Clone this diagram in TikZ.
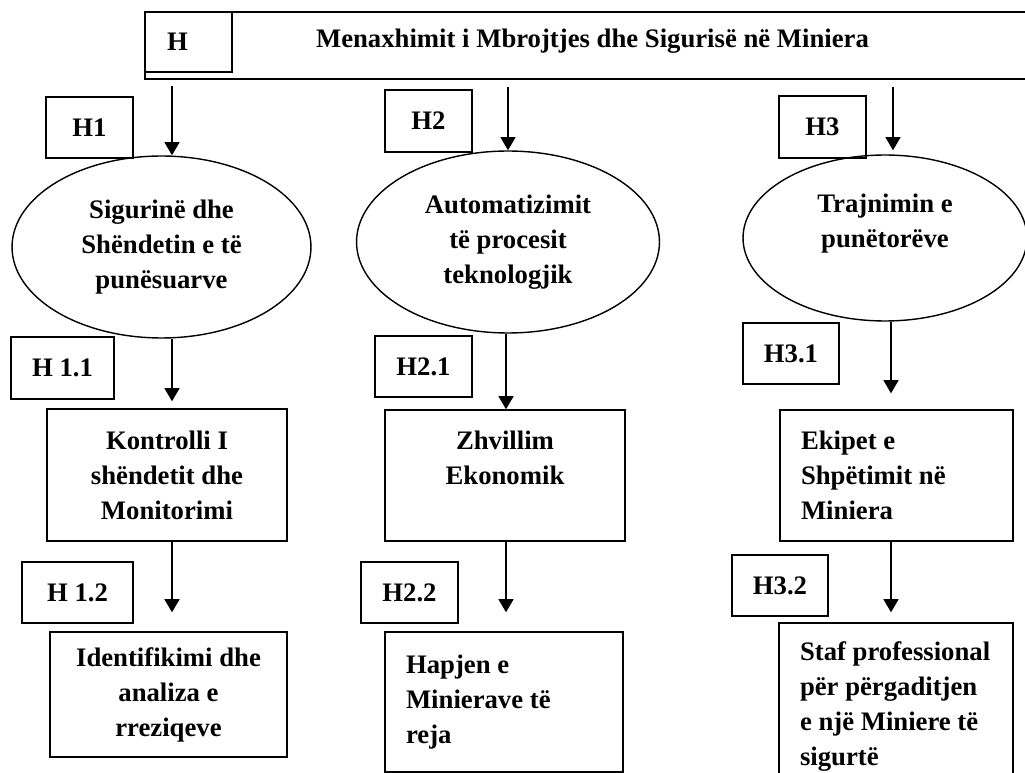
\documentclass[tikz,border=0pt]{standalone}
\usepackage{fontspec}
\setmainfont{Liberation Serif}
\usepackage{xcolor}
\usepackage{tikz}
\usetikzlibrary{shapes.geometric,arrows.meta}

\newcommand\diagfont{\bfseries\fontsize{15.2}{19.9}\selectfont}
\tikzset{
  tag/.style={draw, line width=0.8pt, inner sep=0pt, minimum height=1.22cm, font=\diagfont},
  goal/.style={draw, ellipse, line width=0.8pt, inner sep=0pt, align=center, font=\diagfont},
  task/.style={draw, line width=0.8pt, inner sep=0pt, align=center, font=\diagfont},
  flow/.style={-{Triangle[width=8.5pt,length=7.5pt]}, line width=1pt},
}

\begin{document}
\begin{tikzpicture}[x=0.02cm, y=-0.02cm]
\useasboundingbox (0,0) rectangle (1025,773);

% header
\node[draw, line width=1.1pt, minimum width=17.9cm, minimum height=1.34cm, inner sep=0pt,
  text height=0.38cm, text depth=0.30cm, font=\diagfont] (top) at (592.5,45.5)
  {Menaxhimit i Mbrojtjes dhe Sigurisë në Miniera};
\node[tag, line width=1.1pt, minimum width=1.74cm, minimum height=1.2cm, text width=0.86cm, align=flush left]
  (hcell) at (188.5,42) {H};

% columns for the arrows
\coordinate (a1) at (172,0);
\coordinate (a2) at (508,0);
\coordinate (b2) at (506,0);
\coordinate (a3) at (893,0);
\coordinate (b3) at (891,0);

% goals
\node[goal, minimum width=5.98cm, minimum height=3.64cm] (e1) at (161.5,247)
  {Sigurinë dhe\\Shëndetin e të\\punësuarve};
\node[goal, minimum width=6.06cm, minimum height=3.64cm] (e2) at (508,242)
  {Automatizimit\\të procesit\\teknologjik};
\node[goal, minimum width=5.68cm, minimum height=3.32cm] (e3) at (885,238)
  {Trajnimin e\\punëtorëve\\~};

% tasks
\node[task, minimum width=4.8cm, minimum height=2.64cm] (k1) at (167,475)
  {Kontrolli I\\shëndetit dhe\\Monitorimi};
\node[task, minimum width=4.74cm, minimum height=2.5cm] (k2) at (168.5,694.5)
  {Identifikimi dhe\\analiza e\\rreziqeve};
\node[task, minimum width=4.8cm, minimum height=2.62cm] (z1) at (505,475.5)
  {Zhvillim\\Ekonomik\\~};
\node[task, minimum width=4.76cm, minimum height=2.8cm, text width=3.92cm, align=flush left] (z2) at (504,702)
  {Hapjen e\\Minierave të\\reja};
\node[task, minimum width=4.66cm, minimum height=2.62cm, text width=3.82cm, align=flush left] (r1) at (896.5,475.5)
  {Ekipet e\\Shpëtimit në\\Miniera};
\node[task, minimum width=4.68cm, minimum height=3.34cm, text width=3.84cm, align=flush left] (r2) at (896,706.5)
  {Staf professional\\për përgaditjen\\e një Miniere të\\sigurtë};

% labels
\node[tag, minimum width=1.74cm] (h1) at (89.5,127.5) {H1};
\node[tag, minimum width=1.74cm, minimum height=1.24cm] (h2) at (428.5,121) {H2};
\node[tag, minimum width=1.74cm, minimum height=1.24cm] (h3) at (822.5,127) {H3};
\node[tag, minimum width=2.06cm, minimum height=1.24cm] (h11) at (62.5,368) {H 1.1};
\node[tag, minimum width=1.94cm] (h21) at (423.5,366.5) {H2.1};
\node[tag, minimum width=1.92cm] (h31) at (791,353.5) {H3.1};
\node[tag, minimum width=2.22cm] (h12) at (77.5,592.5) {H 1.2};
\node[tag, minimum width=1.94cm] (h22) at (409.5,592.5) {H2.2};
\node[tag, minimum width=1.92cm] (h32) at (780,585.5) {H3.2};

% arrows
\draw[flow, shorten <=0.12cm] (top.south -| a1) -- (e1.north -| a1);
\draw[flow, shorten >=0.14cm] (e1.south -| a1) -- (k1.north -| a1);
\draw[flow, shorten >=0.38cm] (k1.south -| a1) -- (k2.north -| a1);

\draw[flow, shorten <=0.14cm] (top.south -| a2) -- (e2.north -| a2);
\draw[flow] (e2.south -| b2) -- (z1.north -| b2);
\draw[flow, shorten >=0.38cm] (z1.south -| b2) -- (z2.north -| b2);

\draw[flow, shorten <=0.14cm, shorten >=0.08cm] (top.south -| a3) -- (e3.north -| a3);
\draw[flow, shorten >=0.32cm] (e3.south -| b3) -- (r1.north -| b3);
\draw[flow, shorten >=0.2cm] (r1.south -| b3) -- (r2.north -| b3);
\end{tikzpicture}
\end{document}
